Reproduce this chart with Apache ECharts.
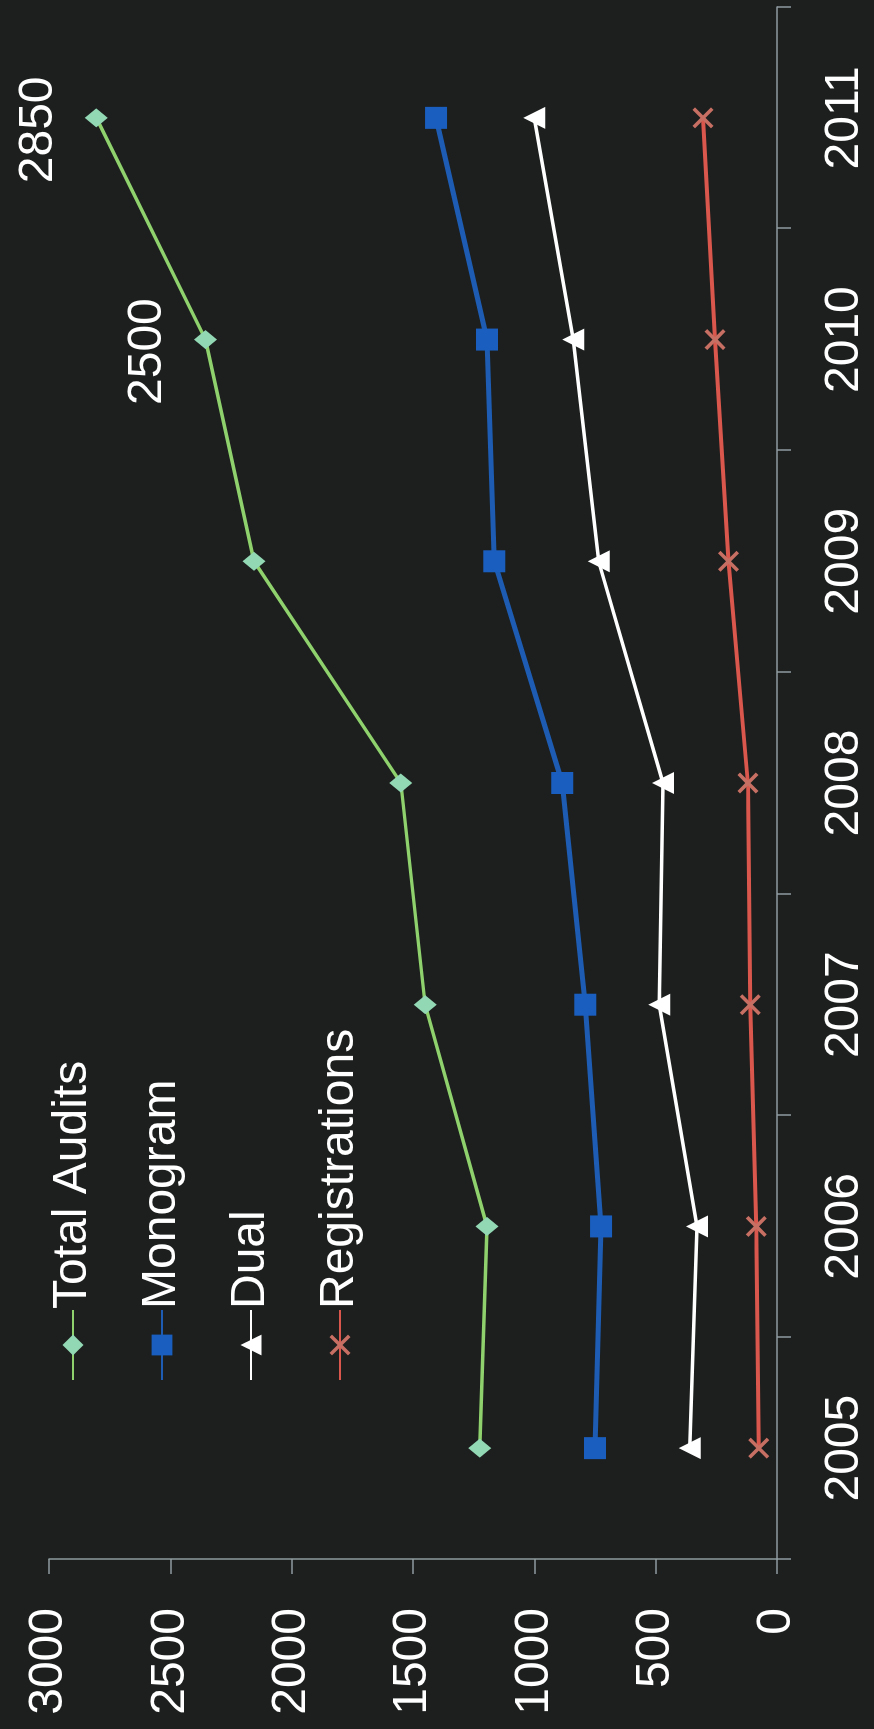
<!DOCTYPE html>
<html>
<head>
<meta charset="utf-8">
<script src="https://cdn.jsdelivr.net/npm/echarts@6/dist/echarts.min.js"></script>
<style>
  html, body { margin:0; padding:0; width:874px; height:1729px; overflow:hidden; background:#1c1f1e; }
  #chart { position:absolute; left:0; top:1729px; width:1729px; height:874px; transform-origin:0 0; transform:rotate(-90deg); }
</style>
</head>
<body>
<div id="chart"></div>
<script>
const years = ['2005', '2006', '2007', '2008', '2009', '2010', '2011'];
const totalAudits = [1225, 1195, 1450, 1550, 2155, 2355, 2805];
const monogram = [750, 725, 790, 885, 1165, 1195, 1405];
const dual = [360, 330, 485, 470, 735, 840, 1000];
const registrations = [75, 85, 110, 120, 200, 255, 305];
const totalAuditNotes = ['', '', '', '', '', '2500', '2850'];
const seriesNames = ['Total Audits', 'Monogram', 'Dual', 'Registrations'];

const FONT = "'Liberation Sans', Arial, sans-serif";
const X_PATH = 'path://M0,1.2 L1.2,0 L5,3.8 L8.8,0 L10,1.2 L6.2,5 L10,8.8 L8.8,10 L5,6.2 L1.2,10 L0,8.8 L3.8,5 Z';

const chart = echarts.init(document.getElementById('chart'));
const axisColor = '#8e9ca1';

chart.setOption({
  backgroundColor: '#1c1f1e',
  animation: false,
  textStyle: { fontFamily: FONT },
  grid: { left: 170, right: 7, top: 49, bottom: 97 },
  legend: {
    orient: 'vertical',
    left: 343,
    top: 44,
    itemWidth: 70,
    itemHeight: 26,
    itemGap: 41,
    data: seriesNames,
    textStyle: { color: '#ffffff', fontSize: 48, fontFamily: FONT, padding: [0, 0, 0, -4] }
  },
  xAxis: {
    type: 'category',
    data: years,
    boundaryGap: true,
    axisLine: { show: true, lineStyle: { color: axisColor, width: 1.5 } },
    axisTick: { show: true, length: 14, lineStyle: { color: axisColor, width: 1.5 } },
    axisLabel: { color: '#ffffff', fontSize: 48, fontFamily: FONT, margin: 44 },
    splitLine: { show: false }
  },
  yAxis: {
    type: 'value',
    min: 0,
    max: 3000,
    interval: 500,
    axisLine: { show: true, lineStyle: { color: axisColor, width: 1.5 } },
    axisTick: { show: true, length: 15, lineStyle: { color: axisColor, width: 1.5 } },
    axisLabel: { color: '#ffffff', fontSize: 48, fontFamily: FONT, margin: 49, formatter: v => String(v) },
    splitLine: { show: false }
  },
  series: [
    {
      name: seriesNames[0],
      type: 'line',
      data: totalAudits.map((v, i) => ({
        value: v,
        label: {
          show: totalAuditNotes[i] !== '',
          formatter: totalAuditNotes[i],
          position: 'top',
          distance: 22,
          offset: [-12, 0],
          color: '#ffffff',
          fontSize: 48,
          fontFamily: FONT
        }
      })),
      symbol: 'diamond',
      symbolSize: [19, 23],
      lineStyle: { color: '#8fd16c', width: 3.5 },
      itemStyle: { color: '#93d8b4' }
    },
    {
      name: seriesNames[1],
      type: 'line',
      data: monogram,
      symbol: 'rect',
      symbolSize: 22,
      lineStyle: { color: '#1d5cb2', width: 5 },
      itemStyle: { color: '#1a5fc0' }
    },
    {
      name: seriesNames[2],
      type: 'line',
      data: dual,
      symbol: 'triangle',
      symbolSize: 22,
      lineStyle: { color: '#ffffff', width: 3.5 },
      itemStyle: { color: '#ffffff' }
    },
    {
      name: seriesNames[3],
      type: 'line',
      data: registrations,
      symbol: X_PATH,
      symbolSize: 21,
      lineStyle: { color: '#d9574c', width: 4 },
      itemStyle: { color: '#c76f63' }
    }
  ]
});
</script>
</body>
</html>
